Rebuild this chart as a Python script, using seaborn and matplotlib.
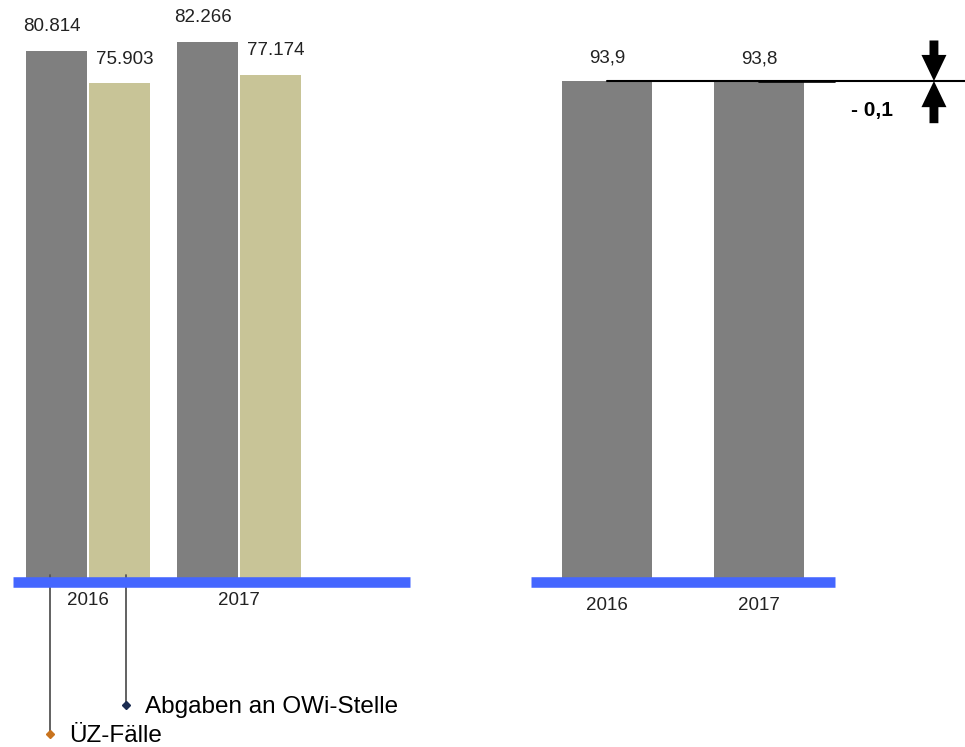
import matplotlib
matplotlib.use("Agg")
import matplotlib.pyplot as plt
from matplotlib.transforms import blended_transform_factory
import pandas as pd
import seaborn as sns

# Data
years = ["2016", "2017"]
uz_faelle = [80814, 82266]
abgaben_owi = [75903, 77174]
quote = [93.9, 93.8]
quote_diff = "- 0,1"
series_names = ["ÜZ-Fälle", "Abgaben an OWi-Stelle"]

GRAY = "#7f7f7f"
KHAKI = "#c8c497"
BLUE = "#4466ff"
TEXT = "#222222"
MARK_COLORS = ["#c8731e", "#1c2d52"]

sns.set_theme(style="white")
plt.rcParams["font.family"] = ["Liberation Sans", "DejaVu Sans"]

W, H = 965, 747
fig = plt.figure(figsize=(W / 100, H / 100), dpi=100)


def box(x0, x1, y_bottom, y_top):
    return [x0 / W, 1 - y_bottom / H, (x1 - x0) / W, (y_bottom - y_top) / H]


def de_thousands(v):
    return f"{v:,}".replace(",", ".")


def de_decimal(v):
    return f"{v:.1f}".replace(".", ",")


axL = fig.add_axes(box(13, 410, 582, 0))
axR = fig.add_axes(box(531, 835, 582, 0))

# Left panel: case counts
df_counts = pd.DataFrame({
    "Jahr": years * 2,
    "Wert": uz_faelle + abgaben_owi,
    "Reihe": [series_names[0]] * len(years) + [series_names[1]] * len(years),
})
sns.barplot(data=df_counts, x="Jahr", y="Wert", hue="Reihe",
            palette=[GRAY, KHAKI], width=0.834, gap=0.025, saturation=1,
            linewidth=0, legend=False, ax=axL)
axL.set_xlim(-0.497, 2.132)
axL.set_ylim(0, 88600)

for container, values, dx in zip(axL.containers, [uz_faelle, abgaben_owi], [-3.5, 4]):
    for patch, v in zip(container.patches, values):
        cx = patch.get_x() + patch.get_width() / 2
        axL.annotate(de_thousands(v), (cx, v), xytext=(dx, 17.5),
                     textcoords="offset points", ha="center", va="center",
                     fontsize=13.5, color=TEXT)

# Right panel: percentage
df_quote = pd.DataFrame({"Jahr": years, "Quote": quote})
sns.barplot(data=df_quote, x="Jahr", y="Quote", color=GRAY, width=0.59,
            saturation=1, linewidth=0, ax=axR)
axR.set_xlim(-0.5, 1.5)
axR.set_ylim(0, 109.09)

for i, v in enumerate(quote):
    axR.annotate(de_decimal(v), (i, v), xytext=(0, 16.6),
                 textcoords="offset points", ha="center", va="center",
                 fontsize=13.5, color=TEXT)

# Reference lines at the bar heights, extending past the panel
axR.plot([0, 2.36], [quote[0], quote[0]], color="black", lw=1.5,
         clip_on=False, zorder=4)
axR.plot([1, 1.5], [quote[1], quote[1]], color="black", lw=1.2,
         clip_on=False, zorder=4)

# Difference arrows pointing at the line
arrow_x = 2.151
arrow_style = "simple,head_length=0.94,head_width=0.9,tail_width=0.32"
for start in (101.5, 86.0):
    axR.annotate("", xy=(arrow_x, quote[0]), xytext=(arrow_x, start),
                 arrowprops=dict(arrowstyle=arrow_style, fc="black",
                                 ec="none", lw=0, mutation_scale=20,
                                 shrinkA=0, shrinkB=0),
                 annotation_clip=False)
axR.text(1.743, 88.3, quote_diff, ha="center", va="center", fontsize=15,
         fontweight="bold", color="black", clip_on=False)

# Axis styling: only a thick blue baseline
for ax, pad in ((axL, 7), (axR, 11)):
    for side in ("left", "right", "top"):
        ax.spines[side].set_visible(False)
    ax.spines["bottom"].set_color(BLUE)
    ax.spines["bottom"].set_linewidth(7.6)
    ax.spines["bottom"].set_capstyle("butt")
    ax.set_yticks([])
    ax.set_xlabel("")
    ax.set_ylabel("")
    ax.tick_params(axis="x", length=0, pad=pad, labelsize=13.5,
                   labelcolor=TEXT)
    ax.patch.set_alpha(0)

# Leader lines naming the two series (drawn behind the blue baseline)
tr = blended_transform_factory(axL.transData, fig.transFigure)
leaders = [(-0.25, 734), (0.25, 705)]
for (lx, ly), name, mcol in zip(leaders, series_names, MARK_COLORS):
    axL.plot([lx, lx], [1 - 575 / H, 1 - ly / H], transform=tr,
             color="#555555", lw=1.3, clip_on=False, zorder=2)
    axL.plot([lx], [1 - ly / H], transform=tr, marker="D", ms=4.5,
             color=mcol, clip_on=False, zorder=6)
    axL.annotate(name, (lx, 1 - ly / H), xycoords=tr, xytext=(13.5, 0),
                 textcoords="offset points", ha="left", va="center_baseline",
                 fontsize=17.5, color="black", annotation_clip=False)

fig.savefig("out.png", dpi=100)
